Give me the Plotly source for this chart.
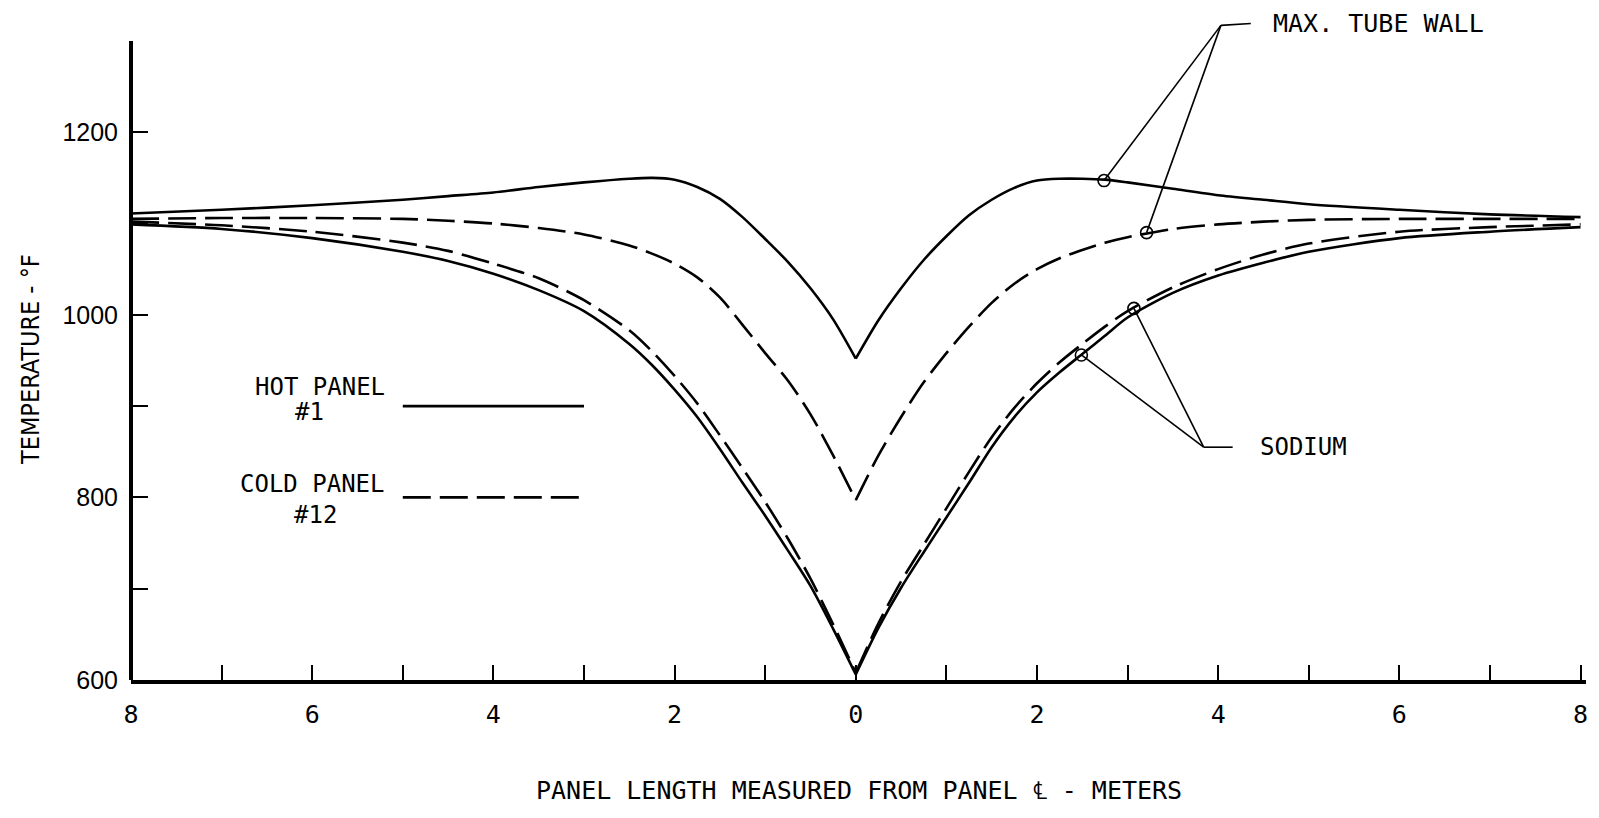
import plotly.graph_objects as go

# ---------------- data ----------------
x_pos = [-8, -7, -6, -5, -4.5, -4, -3.5, -3, -2.5, -2.25, -2, -1.75, -1.5, -1.25, -1,
         -0.75, -0.5, -0.25, 0, 0.25, 0.5, 0.75, 1, 1.25, 1.5, 1.75, 2, 2.25, 2.5,
         2.75, 3, 3.5, 4, 4.5, 5, 6, 7, 8]

hot_wall = [1111, 1115, 1120, 1126, 1130, 1134, 1140, 1145, 1149, 1150, 1148, 1140, 1127,
            1107, 1083, 1058, 1029, 995, 952, 994, 1029, 1060, 1086, 1109, 1126, 1139,
            1147, 1149, 1149, 1148, 1145, 1138, 1131, 1126, 1121, 1115, 1110, 1107]

cold_wall = [1105, 1106, 1106, 1105, 1103, 1100, 1095, 1088, 1076, 1067, 1056, 1041, 1019,
             989, 958, 928, 891, 846, 797, 846, 888, 926, 958, 987, 1013, 1034,
             1050, 1062, 1071, 1079, 1085, 1094, 1099, 1102, 1104, 1105, 1105, 1105]

hot_sodium = [1099, 1094, 1084, 1069, 1059, 1045, 1027, 1004, 968, 945, 918, 888, 853,
              816, 780, 742, 703, 656, 606, 657, 701, 740, 778, 816, 855, 888,
              915, 937, 957, 977, 997, 1024, 1043, 1057, 1069, 1084, 1091, 1096]

cold_sodium = [1102, 1098, 1091, 1079, 1070, 1056, 1040, 1016, 983, 960, 933, 903, 868,
               832, 795, 755, 711, 661, 608, 662, 708, 748, 788, 828, 866, 898,
               925, 948, 968, 987, 1004, 1030, 1050, 1066, 1078, 1091, 1096, 1099]

# callout points (on the curves)
wall_pts_x = [2.74, 3.21]
wall_pts_y = [1147, 1090]
sodium_pts_x = [2.49, 3.07]
sodium_pts_y = [956, 1007]
wall_apex = [4.03, 1317]
wall_tail = [4.36, 1319]
sodium_apex = [3.84, 855]
sodium_tail = [4.16, 855]

x_ticks = list(range(-8, 9))
x_ticktext = [str(abs(v)) if v % 2 == 0 else "" for v in x_ticks]
y_ticks = [600, 700, 800, 900, 1000, 1100, 1200]
y_ticktext = [str(v) if v % 200 == 0 else "" for v in y_ticks]

legend_x = [-5.0, -3.0]
legend_y = [900, 800]

MONO = "DejaVu Sans Mono, Liberation Mono, monospace"
COND = "Liberation Sans Narrow, DejaVu Sans Condensed, Arial Narrow, sans-serif"
SANS = "Liberation Sans, Arial, Helvetica, sans-serif"
DASH = "28px,9px"

fig = go.Figure()

i0 = x_pos.index(0)

def curve(y, dash):
    # each side of the centre line is its own smooth branch so the cusp stays sharp
    for xs, ys in ((x_pos[:i0 + 1], y[:i0 + 1]), (x_pos[i0:], y[i0:])):
        fig.add_trace(go.Scatter(x=xs, y=ys, mode="lines",
                                 line=dict(color="black", width=2.6, dash=dash,
                                           shape="spline", smoothing=0.8),
                                 hoverinfo="skip", showlegend=False))

curve(hot_wall, "solid")
curve(cold_wall, DASH)
curve(hot_sodium, "solid")
curve(cold_sodium, DASH)

# legend lines
fig.add_trace(go.Scatter(x=legend_x, y=[legend_y[0]] * 2, mode="lines",
                         line=dict(color="black", width=2.6), showlegend=False, hoverinfo="skip"))
fig.add_trace(go.Scatter(x=legend_x, y=[legend_y[1]] * 2, mode="lines",
                         line=dict(color="black", width=2.6, dash=DASH), showlegend=False, hoverinfo="skip"))

# leader lines
LEAD = dict(color="black", width=1.6)
for px, py in zip(wall_pts_x, wall_pts_y):
    fig.add_trace(go.Scatter(x=[px, wall_apex[0]], y=[py, wall_apex[1]], mode="lines",
                             line=LEAD, showlegend=False, hoverinfo="skip"))
fig.add_trace(go.Scatter(x=[wall_apex[0], wall_tail[0]], y=[wall_apex[1], wall_tail[1]], mode="lines",
                         line=LEAD, showlegend=False, hoverinfo="skip"))
for px, py in zip(sodium_pts_x, sodium_pts_y):
    fig.add_trace(go.Scatter(x=[px, sodium_apex[0]], y=[py, sodium_apex[1]], mode="lines",
                             line=LEAD, showlegend=False, hoverinfo="skip"))
fig.add_trace(go.Scatter(x=[sodium_apex[0], sodium_tail[0]], y=[sodium_apex[1], sodium_tail[1]], mode="lines",
                         line=LEAD, showlegend=False, hoverinfo="skip"))

# callout circles
fig.add_trace(go.Scatter(x=wall_pts_x + sodium_pts_x, y=wall_pts_y + sodium_pts_y, mode="markers",
                         marker=dict(symbol="circle-open", size=12, color="black", line=dict(width=1.6)),
                         showlegend=False, hoverinfo="skip"))

annotations = [
    dict(x=wall_tail[0], y=wall_tail[1], xref="x", yref="y", text="MAX. TUBE WALL",
         xanchor="left", yanchor="middle", xshift=20, showarrow=False,
         font=dict(family=MONO, size=25, color="black")),
    dict(x=sodium_tail[0], y=sodium_tail[1], xref="x", yref="y", text="SODIUM",
         xanchor="left", yanchor="middle", xshift=25, showarrow=False,
         font=dict(family=MONO, size=24, color="black")),
    dict(x=legend_x[0], y=legend_y[0], xref="x", yref="y", text="HOT PANEL",
         xanchor="right", yanchor="middle", xshift=-16, yshift=19, showarrow=False,
         font=dict(family=MONO, size=24, color="black")),
    dict(x=legend_x[0], y=legend_y[0], xref="x", yref="y", text="#1",
         xanchor="center", yanchor="middle", xshift=-93, yshift=-6, showarrow=False,
         font=dict(family=MONO, size=24, color="black")),
    dict(x=legend_x[0], y=legend_y[1], xref="x", yref="y", text="COLD PANEL",
         xanchor="right", yanchor="middle", xshift=-16, yshift=13, showarrow=False,
         font=dict(family=MONO, size=24, color="black")),
    dict(x=legend_x[0], y=legend_y[1], xref="x", yref="y", text="#12",
         xanchor="center", yanchor="middle", xshift=-87, yshift=-18, showarrow=False,
         font=dict(family=MONO, size=24, color="black")),
    dict(x=0.5, y=-0.164, xref="paper", yref="paper", text="PANEL LENGTH MEASURED FROM PANEL \u2104 - METERS",
         xanchor="center", yanchor="middle", showarrow=False,
         font=dict(family=MONO, size=25, color="black")),
    dict(x=-0.069, y=0.475, xref="paper", yref="paper", text="TEMPERATURE - \u00b0F",
         xanchor="center", yanchor="middle", textangle=-90, showarrow=False,
         font=dict(family=COND, size=25, color="black")),
]

shapes = [
    dict(type="line", xref="paper", yref="y", x0=0, x1=0, y0=600, y1=1300,
         line=dict(color="black", width=4)),
]

fig.update_layout(
    width=1599, height=818,
    margin=dict(l=131, r=13, t=5, b=138),
    paper_bgcolor="white", plot_bgcolor="white",
    showlegend=False,
    annotations=annotations,
    shapes=shapes,
    xaxis=dict(range=[-8, 8.06], tickmode="array", tickvals=x_ticks, ticktext=x_ticktext,
               ticks="inside", ticklen=15, tickwidth=2, tickcolor="black",
               showline=True, linewidth=4, linecolor="black", showgrid=False, zeroline=False,
               tickfont=dict(family=MONO, size=25, color="black"), ticklabelstandoff=9),
    yaxis=dict(range=[600, 1339.3], tickmode="array", tickvals=y_ticks, ticktext=y_ticktext,
               ticks="inside", ticklen=17, tickwidth=2, tickcolor="black",
               showline=False, showgrid=False, zeroline=False,
               tickfont=dict(family=SANS, size=25, color="black"), ticklabelstandoff=12),
)

fig.write_html("out.html")
